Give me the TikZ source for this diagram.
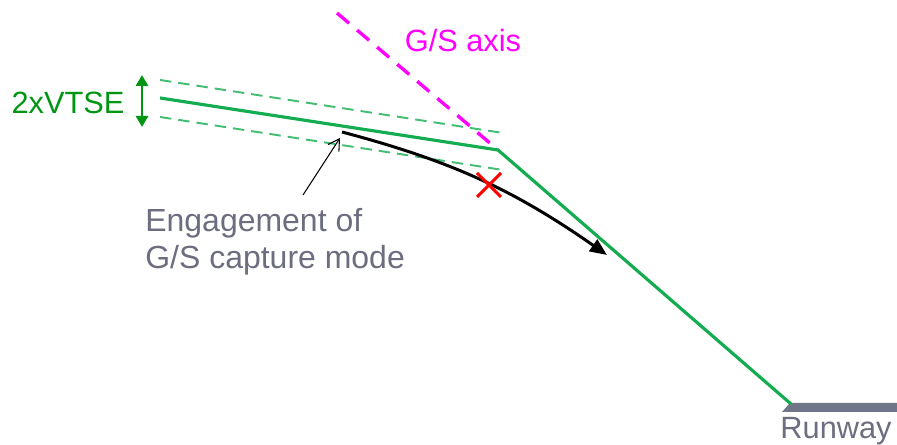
\documentclass[tikz,border=0pt]{standalone}
\usepackage{fontspec}
\setmainfont{Liberation Sans}
\usetikzlibrary{arrows.meta, positioning}

\definecolor{pathgreen}{RGB}{20,172,80}
\definecolor{vtsegreen}{RGB}{0,150,20}
\definecolor{labelgray}{RGB}{108,110,128}
\definecolor{runwaygray}{RGB}{112,118,135}
\definecolor{axismagenta}{RGB}{255,0,255}

\begin{document}
\begin{tikzpicture}[
  x=0.02cm, y=0.02cm,
  lbl/.style={inner sep=0pt, font=\fontsize{17.5}{24}\selectfont},
  glide/.style={pathgreen, line width=1.8pt, line join=round},
  band/.style={pathgreen!80, line width=1.1pt, dash pattern=on 6.5pt off 4pt},
  gsaxis/.style={axismagenta, line width=1.9pt, dash pattern=on 9pt off 6pt},
  traj/.style={-{Triangle[length=3.4mm, width=2.8mm]}, line width=1.7pt},
  pointer/.style={-{Straight Barb[length=2.2mm, width=2.6mm]}, line width=0.6pt}
]
\useasboundingbox (0,0) rectangle (897,445);

% Points
\coordinate (start) at (160,347);
\coordinate (knee) at (498,295);
\coordinate (touch) at (791,41);
\coordinate (upA) at (160,365);
\coordinate (upB) at (503,312);
\coordinate (loA) at (160,328);
\coordinate (loB) at (503,275);
\coordinate (vtseTop) at (142,370);
\coordinate (vtseBot) at (142,318);
\coordinate (axisTop) at (337,432);
\coordinate (capture) at (342,313);
\coordinate (trajEnd) at (607,190);
\coordinate (miss) at (489,260);
\coordinate (pointTail) at (303,250);
\coordinate (pointHead) at (340,307);

% Nodes
\node (vtse) [lbl, text=vtsegreen] at (68,342) {2xVTSE};
\node (axislbl) [lbl, text=axismagenta] at (463,404) {G/S axis};
\node (engage) [lbl, font=\fontsize{18.2}{21}\selectfont, text=labelgray, align=left, anchor=west] at (145,203) {Engagement of\\G/S capture mode};
\node (rwy) [lbl, text=labelgray] at (836,14) {Runway};

% Runway
\fill[runwaygray] (782,33) -- (790,42) -- (897,42) -- (897,33) -- cycle;

% Tolerance band
\draw[band] (upA) -- (upB);
\draw[band] (loA) -- (loB);
\draw[vtsegreen, line width=1.6pt, {Triangle[length=2.2mm, width=2.4mm]}-{Triangle[length=2.2mm, width=2.4mm]}] (vtseTop) -- (vtseBot);

% G/S axis
\draw[gsaxis] (axisTop) -- (knee);

% Flight path
\draw[glide] (start) -- (knee) -- (touch);

% Trajectory
\draw[traj] (capture) to[bend left=10] (trajEnd);
\draw[red, line width=1.8pt] (miss) +(-12,-12) -- +(12,12)
  (miss) +(-12,12) -- +(12,-12);

% Arrows
\draw[pointer] (pointTail) -- (pointHead);

\end{tikzpicture}
\end{document}
